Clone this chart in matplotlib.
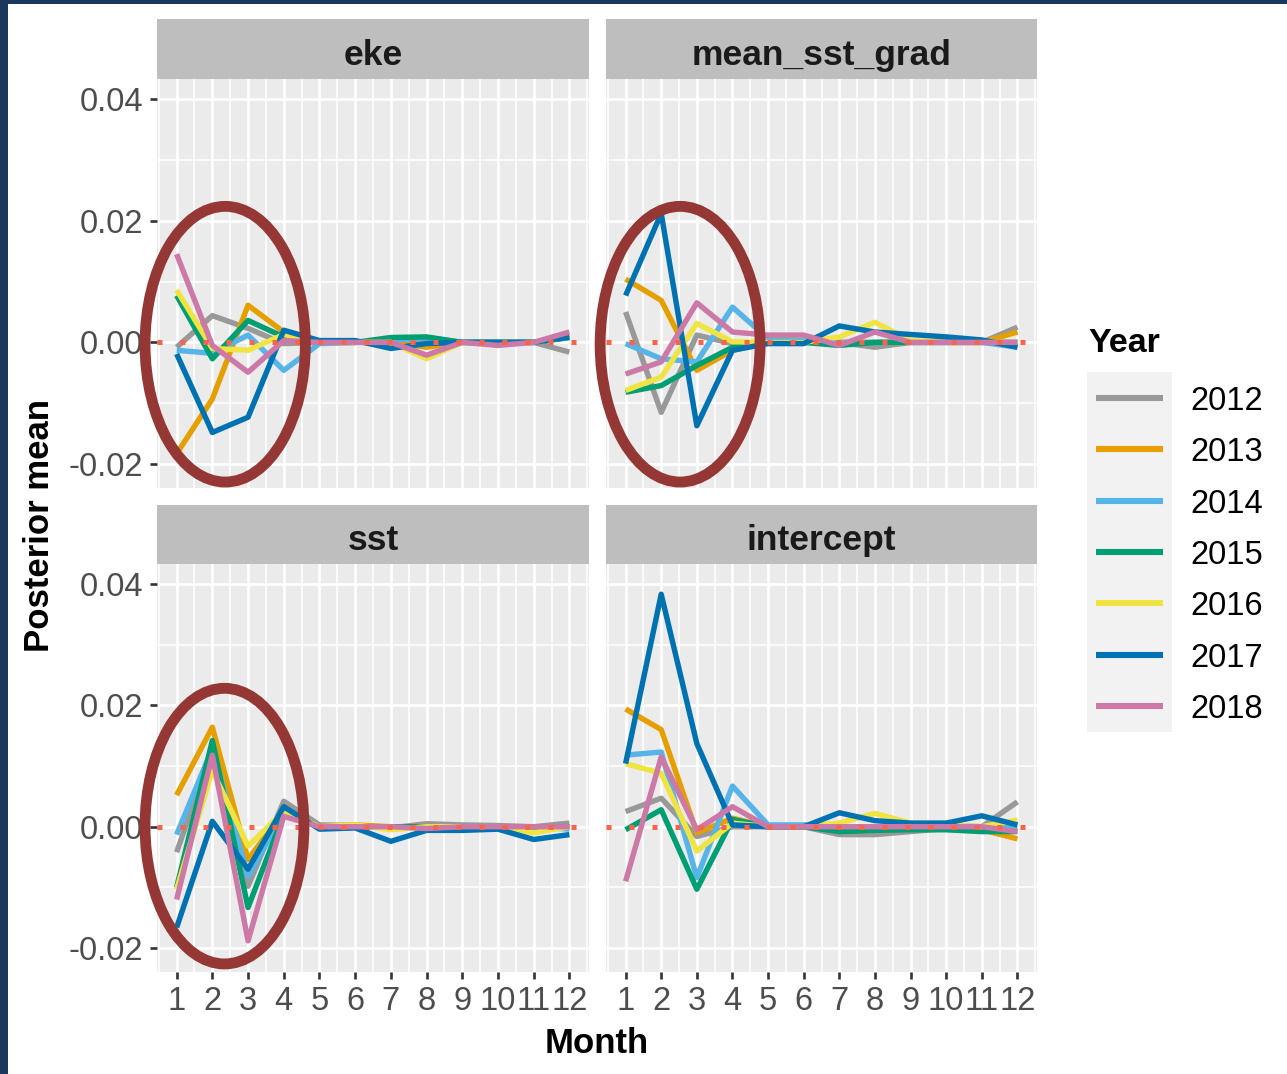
import matplotlib
matplotlib.use("Agg")
import matplotlib.pyplot as plt
from matplotlib.patches import Ellipse, Rectangle
from matplotlib.ticker import FixedLocator

plt.rcParams["font.family"] = ["Liberation Sans", "DejaVu Sans"]

months = list(range(1, 13))
month_labels = [str(m) for m in months]
years = ["2012", "2013", "2014", "2015", "2016", "2017", "2018"]
year_colors = ["#999999", "#E69F00", "#56B4E9", "#009E73", "#F0E442", "#0072B2", "#CC79A7"]
panel_names = ["eke", "mean_sst_grad", "sst", "intercept"]
y_ticks = [-0.02, 0.00, 0.02, 0.04]
y_tick_labels = ["-0.02", "0.00", "0.02", "0.04"]

# posterior means, one row per year (2012..2018), one column per month
eke = [
    [-0.0008, 0.0044, 0.0023, -0.0002, 0.0000, 0.0000, 0.0002, 0.0000, 0.0000, 0.0000, 0.0000, -0.0016],
    [-0.0183, -0.0093, 0.0061, 0.0017, 0.0000, 0.0000, 0.0000, -0.0008, 0.0000, 0.0000, 0.0000, 0.0010],
    [-0.0013, -0.0018, 0.0012, -0.0046, -0.0002, 0.0000, 0.0003, 0.0008, 0.0000, 0.0000, 0.0000, 0.0008],
    [0.0077, -0.0027, 0.0036, 0.0009, 0.0000, 0.0000, 0.0008, 0.0009, 0.0000, 0.0000, 0.0000, 0.0008],
    [0.0086, -0.0010, -0.0013, 0.0013, 0.0000, 0.0000, 0.0000, -0.0027, 0.0000, -0.0003, 0.0000, 0.0010],
    [-0.0019, -0.0148, -0.0123, 0.0020, 0.0003, 0.0003, -0.0010, -0.0002, 0.0000, 0.0000, 0.0000, 0.0009],
    [0.0145, -0.0005, -0.0049, 0.0003, 0.0000, 0.0000, 0.0000, -0.0021, 0.0000, -0.0005, 0.0000, 0.0017],
]
mean_sst_grad = [
    [0.0050, -0.0115, 0.0012, -0.0002, 0.0000, 0.0000, 0.0000, -0.0008, 0.0000, 0.0000, 0.0000, 0.0025],
    [0.0104, 0.0069, -0.0046, -0.0013, 0.0000, 0.0000, 0.0000, 0.0000, 0.0000, 0.0000, 0.0000, 0.0017],
    [-0.0002, -0.0027, -0.0032, 0.0058, 0.0006, 0.0003, 0.0000, 0.0000, 0.0000, 0.0000, 0.0000, -0.0008],
    [-0.0082, -0.0071, -0.0038, -0.0008, 0.0000, 0.0000, -0.0005, 0.0000, 0.0000, 0.0000, 0.0000, 0.0000],
    [-0.0079, -0.0057, 0.0031, 0.0001, 0.0000, 0.0000, 0.0009, 0.0033, 0.0003, 0.0000, 0.0000, 0.0000],
    [0.0077, 0.0212, -0.0137, -0.0013, -0.0002, -0.0002, 0.0027, 0.0017, 0.0013, 0.0009, 0.0004, -0.0008],
    [-0.0052, -0.0032, 0.0065, 0.0017, 0.0012, 0.0012, -0.0005, 0.0017, 0.0000, 0.0000, 0.0000, 0.0000],
]
sst = [
    [-0.0042, 0.0126, -0.0098, 0.0042, 0.0003, 0.0002, -0.0002, 0.0005, 0.0003, 0.0002, 0.0000, 0.0006],
    [0.0052, 0.0164, -0.0054, 0.0025, 0.0000, 0.0003, 0.0000, 0.0000, 0.0000, 0.0000, 0.0000, 0.0000],
    [-0.0013, 0.0129, -0.0081, 0.0022, 0.0000, 0.0000, 0.0000, 0.0000, 0.0000, -0.0003, 0.0000, -0.0004],
    [-0.0100, 0.0142, -0.0133, 0.0020, 0.0000, 0.0000, 0.0000, 0.0000, 0.0000, 0.0000, 0.0000, 0.0000],
    [-0.0103, 0.0093, -0.0032, 0.0025, 0.0000, 0.0003, -0.0005, 0.0000, 0.0000, 0.0000, -0.0010, 0.0000],
    [-0.0166, 0.0009, -0.0070, 0.0033, -0.0004, -0.0002, -0.0024, -0.0006, -0.0006, -0.0004, -0.0021, -0.0013],
    [-0.0120, 0.0118, -0.0188, 0.0017, 0.0000, 0.0000, 0.0000, -0.0003, 0.0000, 0.0000, 0.0000, 0.0000],
]
intercept = [
    [0.0025, 0.0047, -0.0016, 0.0000, 0.0000, 0.0000, -0.0013, -0.0013, -0.0008, -0.0003, 0.0000, 0.0041],
    [0.0194, 0.0160, -0.0010, 0.0014, 0.0000, 0.0000, 0.0000, 0.0000, 0.0000, 0.0000, -0.0005, -0.0020],
    [0.0118, 0.0123, -0.0084, 0.0067, 0.0003, 0.0003, 0.0000, 0.0000, 0.0000, 0.0003, 0.0000, 0.0000],
    [-0.0005, 0.0028, -0.0103, 0.0012, 0.0000, 0.0000, -0.0008, -0.0006, -0.0005, -0.0005, -0.0008, -0.0008],
    [0.0104, 0.0088, -0.0040, 0.0006, 0.0000, 0.0000, 0.0006, 0.0022, 0.0006, 0.0003, 0.0000, 0.0011],
    [0.0104, 0.0383, 0.0137, 0.0003, 0.0000, 0.0000, 0.0023, 0.0010, 0.0006, 0.0006, 0.0018, 0.0003],
    [-0.0090, 0.0115, -0.0005, 0.0033, 0.0000, 0.0000, 0.0000, 0.0000, 0.0000, 0.0000, 0.0000, -0.0008],
]
panel_values = [eke, mean_sst_grad, sst, intercept]

# hand-drawn highlight ellipses (centre month, centre value, width, height)
highlights = {
    "eke": (2.36, -0.0003, 4.49, 0.0453),
    "mean_sst_grad": (2.53, -0.0003, 4.49, 0.0453),
    "sst": (2.34, 0.0001, 4.45, 0.0454),
}

W, H = 1287, 1074
NAVY = "#1B375E"


def px_box(x0, y0, x1, y1):
    # pixel box (from top-left) -> figure fraction rect
    return [x0 / W, 1 - y1 / H, (x1 - x0) / W, (y1 - y0) / H]


fig = plt.figure(figsize=(W / 100, H / 100), dpi=100, facecolor=NAVY)
fig.patches.append(Rectangle((8 / W, 0), 1 - 8 / W, 1 - 4 / H, transform=fig.transFigure,
                             facecolor="white", edgecolor="none", zorder=-10))

col_px = [(157, 589), (606, 1037)]
row_px = [(79, 488), (564, 972)]
strip_px = [(19, 79), (505, 564)]
minor_x = [m - 0.5 for m in months] + [months[-1] + 0.5]
minor_y = [-0.01, 0.01, 0.03]

for i, (name, values) in enumerate(zip(panel_names, panel_values)):
    row, col = divmod(i, 2)
    x0, x1 = col_px[col]
    y0, y1 = row_px[row]

    ax = fig.add_axes(px_box(x0, y0, x1, y1))
    ax.set_facecolor("#EBEBEB")
    for sp in ax.spines.values():
        sp.set_visible(False)

    for year, color, series in zip(years, year_colors, values):
        ax.plot(months, series, color=color, lw=3.9, solid_capstyle="butt", zorder=3, label=year)

    ax.axhline(0, color="#F8634A", lw=3.6, linestyle=(0, (1.0, 3.6)), dash_capstyle="butt", zorder=4)

    if name in highlights:
        xc, yc, w, h = highlights[name]
        ax.add_patch(Ellipse((xc, yc), w, h, fill=False, edgecolor="#953735", lw=7.8,
                             clip_on=False, zorder=5))

    ax.set_xlim(0.45, 12.55)
    ax.set_ylim(-0.02393, 0.04328)
    ax.set_xticks(months)
    ax.set_yticks(y_ticks)
    ax.xaxis.set_minor_locator(FixedLocator(minor_x))
    ax.yaxis.set_minor_locator(FixedLocator(minor_y))
    ax.grid(which="major", color="white", lw=1.9)
    ax.grid(which="minor", color="white", lw=1.1)
    ax.set_axisbelow(True)
    ax.tick_params(which="minor", length=0)
    ax.tick_params(which="major", length=4.9, width=1.9, color="#333333",
                   labelcolor="#4D4D4D", labelsize=23.5)
    ax.tick_params(axis="x", pad=5)
    ax.tick_params(axis="y", pad=5)

    if row == 1:
        ax.set_xticklabels(month_labels)
    else:
        ax.tick_params(axis="x", length=0, labelbottom=False)
    if col == 0:
        ax.set_yticklabels(y_tick_labels)
    else:
        ax.tick_params(axis="y", length=0, labelleft=False)

    s0, s1 = strip_px[row]
    sax = fig.add_axes(px_box(x0, s0, x1, s1))
    sax.set_facecolor("#BEBEBE")
    sax.set_xticks([])
    sax.set_yticks([])
    for sp in sax.spines.values():
        sp.set_visible(False)
    sax.text(0.5, 0.40, name, ha="center", va="center", fontsize=25.5,
             fontweight="bold", color="#1A1A1A", transform=sax.transAxes)

fig.text(40 / W, 1 - 525.5 / H, "Posterior mean", rotation=90, ha="center", va="center",
         fontsize=25, fontweight="bold", color="black")
fig.text(597 / W, 1 - 1053 / H, "Month", ha="center", va="baseline",
         fontsize=25, fontweight="bold", color="black")

# legend drawn as its own small axes (ggplot style grey key column)
lax = fig.add_axes(px_box(1087, 372, 1172, 732))
lax.set_facecolor("#F2F2F2")
lax.set_xlim(0, 85)
lax.set_ylim(len(years), 0)
lax.set_xticks([])
lax.set_yticks([])
for sp in lax.spines.values():
    sp.set_visible(False)
for k, (year, color) in enumerate(zip(years, year_colors)):
    lax.plot([9, 76], [k + 0.5, k + 0.5], color=color, lw=4.4, solid_capstyle="butt")
    lax.text(103, k + 0.5 + 12 / 51.4, year, ha="left", va="baseline", fontsize=23.5,
             color="black", clip_on=False)
lax.text(1, -20 / 51.4, "Year", ha="left", va="baseline", fontsize=24.5,
         fontweight="bold", color="black", clip_on=False)

fig.savefig("out.png", dpi=100, facecolor=fig.get_facecolor())
